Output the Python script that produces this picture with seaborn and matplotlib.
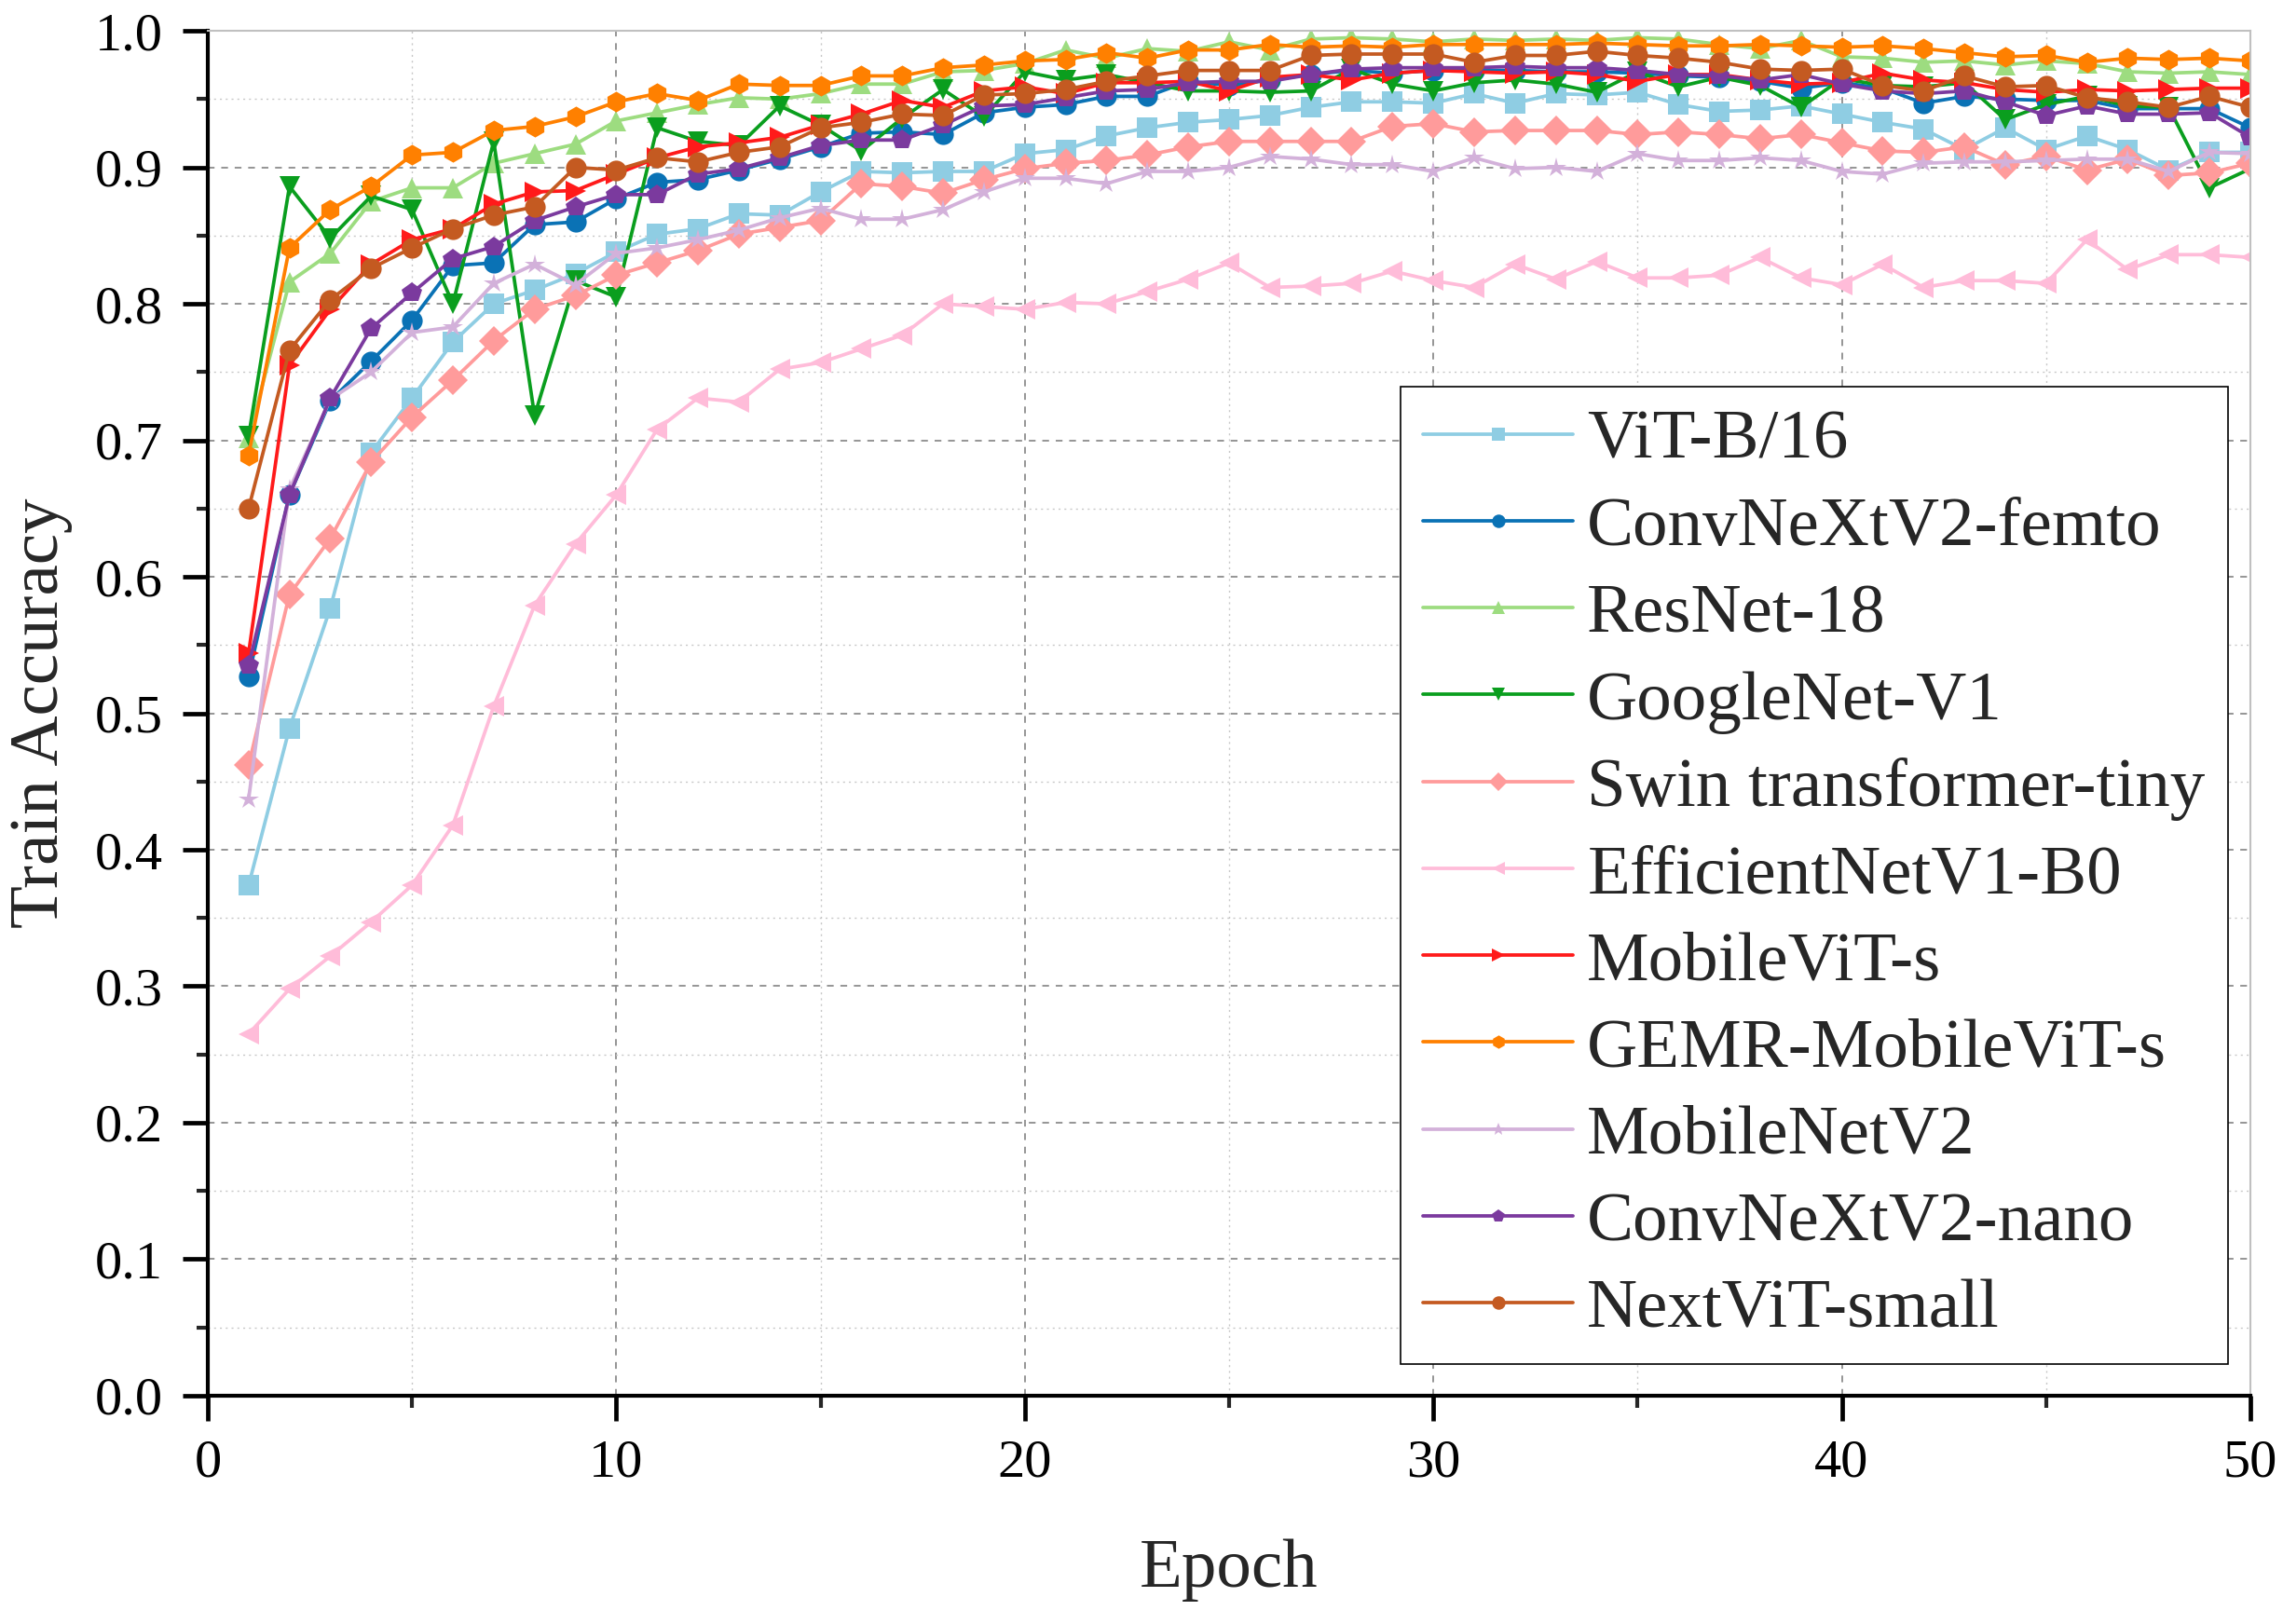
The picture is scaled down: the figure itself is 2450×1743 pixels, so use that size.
import matplotlib
matplotlib.use("Agg")
import matplotlib.pyplot as plt
import seaborn as sns
import pandas as pd
from matplotlib.ticker import MultipleLocator

epochs = list(range(1, 51))

models = ['ViT-B/16', 'ConvNeXtV2-femto', 'ResNet-18', 'GoogleNet-V1',
          'Swin transformer-tiny', 'EfficientNetV1-B0', 'MobileViT-s',
          'GEMR-MobileViT-s', 'MobileNetV2', 'ConvNeXtV2-nano', 'NextViT-small']

vit_b16 = [0.374, 0.489, 0.577, 0.691, 0.731, 0.772, 0.800, 0.810, 0.822, 0.838,
           0.851, 0.855, 0.866, 0.865, 0.882, 0.897, 0.896, 0.897, 0.897, 0.910,
           0.913, 0.923, 0.929, 0.933, 0.935, 0.938, 0.944, 0.948, 0.948, 0.947,
           0.954, 0.947, 0.954, 0.953, 0.955, 0.946, 0.941, 0.942, 0.945, 0.939,
           0.933, 0.928, 0.913, 0.929, 0.913, 0.923, 0.913, 0.898, 0.911, 0.911]
femto = [0.527, 0.660, 0.729, 0.758, 0.788, 0.828, 0.830, 0.858, 0.860, 0.877,
         0.889, 0.891, 0.898, 0.906, 0.915, 0.925, 0.926, 0.924, 0.940, 0.944,
         0.946, 0.952, 0.952, 0.963, 0.960, 0.964, 0.968, 0.971, 0.969, 0.971,
         0.971, 0.971, 0.970, 0.970, 0.969, 0.967, 0.966, 0.963, 0.958, 0.962,
         0.958, 0.947, 0.952, 0.950, 0.949, 0.949, 0.943, 0.943, 0.943, 0.929]
resnet18 = [0.702, 0.816, 0.837, 0.875, 0.885, 0.885, 0.903, 0.910, 0.917, 0.934,
            0.940, 0.946, 0.951, 0.950, 0.954, 0.961, 0.961, 0.970, 0.971, 0.976,
            0.986, 0.980, 0.987, 0.985, 0.992, 0.986, 0.994, 0.995, 0.994, 0.992,
            0.994, 0.993, 0.994, 0.993, 0.995, 0.994, 0.990, 0.987, 0.993, 0.981,
            0.980, 0.977, 0.978, 0.975, 0.978, 0.976, 0.970, 0.969, 0.970, 0.968]
googlenet = [0.703, 0.886, 0.848, 0.879, 0.869, 0.800, 0.919, 0.718, 0.817, 0.805,
             0.929, 0.919, 0.916, 0.945, 0.931, 0.912, 0.936, 0.957, 0.937, 0.970,
             0.964, 0.968, 0.962, 0.956, 0.956, 0.955, 0.956, 0.972, 0.961, 0.956,
             0.962, 0.964, 0.961, 0.955, 0.970, 0.959, 0.966, 0.960, 0.944, 0.965,
             0.960, 0.959, 0.962, 0.935, 0.946, 0.952, 0.945, 0.944, 0.885, 0.899]
swin = [0.462, 0.587, 0.628, 0.684, 0.717, 0.744, 0.773, 0.796, 0.806, 0.821,
        0.830, 0.839, 0.851, 0.856, 0.861, 0.888, 0.886, 0.881, 0.891, 0.899,
        0.903, 0.905, 0.909, 0.915, 0.919, 0.919, 0.919, 0.919, 0.930, 0.932,
        0.926, 0.927, 0.927, 0.927, 0.924, 0.926, 0.924, 0.921, 0.924, 0.918,
        0.912, 0.911, 0.915, 0.902, 0.908, 0.898, 0.906, 0.894, 0.896, 0.903]
effnet = [0.265, 0.298, 0.322, 0.347, 0.374, 0.418, 0.505, 0.579, 0.624, 0.660,
          0.708, 0.731, 0.728, 0.752, 0.757, 0.767, 0.777, 0.800, 0.798, 0.796,
          0.801, 0.800, 0.809, 0.818, 0.830, 0.812, 0.813, 0.815, 0.824, 0.817,
          0.812, 0.829, 0.818, 0.831, 0.819, 0.819, 0.821, 0.834, 0.819, 0.814,
          0.829, 0.812, 0.817, 0.817, 0.815, 0.847, 0.825, 0.836, 0.836, 0.834]
mobilevit = [0.544, 0.755, 0.796, 0.829, 0.847, 0.855, 0.873, 0.882, 0.883, 0.895,
             0.907, 0.915, 0.918, 0.922, 0.931, 0.939, 0.949, 0.944, 0.956, 0.959,
             0.954, 0.962, 0.962, 0.963, 0.956, 0.966, 0.968, 0.964, 0.969, 0.971,
             0.970, 0.969, 0.970, 0.968, 0.963, 0.968, 0.968, 0.964, 0.961, 0.962,
             0.969, 0.964, 0.962, 0.957, 0.955, 0.957, 0.956, 0.957, 0.958, 0.958]
gemr = [0.689, 0.841, 0.869, 0.886, 0.909, 0.911, 0.927, 0.930, 0.937, 0.948,
        0.954, 0.949, 0.961, 0.960, 0.960, 0.967, 0.967, 0.973, 0.975, 0.978,
        0.979, 0.984, 0.980, 0.986, 0.986, 0.990, 0.988, 0.989, 0.988, 0.990,
        0.990, 0.990, 0.990, 0.991, 0.990, 0.989, 0.989, 0.990, 0.989, 0.988,
        0.989, 0.987, 0.984, 0.981, 0.982, 0.977, 0.980, 0.979, 0.980, 0.978]
mobilenetv2 = [0.437, 0.664, 0.730, 0.750, 0.779, 0.783, 0.815, 0.829, 0.814, 0.837,
               0.841, 0.847, 0.854, 0.863, 0.870, 0.862, 0.862, 0.869, 0.882, 0.892,
               0.892, 0.888, 0.897, 0.897, 0.900, 0.908, 0.906, 0.902, 0.902, 0.897,
               0.907, 0.899, 0.900, 0.897, 0.910, 0.905, 0.905, 0.907, 0.905, 0.897,
               0.895, 0.903, 0.904, 0.904, 0.905, 0.906, 0.906, 0.897, 0.911, 0.910]
nano = [0.535, 0.660, 0.731, 0.782, 0.808, 0.833, 0.842, 0.861, 0.871, 0.880,
        0.880, 0.895, 0.899, 0.907, 0.916, 0.920, 0.920, 0.931, 0.945, 0.946,
        0.951, 0.956, 0.957, 0.962, 0.963, 0.963, 0.968, 0.972, 0.973, 0.973,
        0.973, 0.974, 0.973, 0.973, 0.971, 0.968, 0.967, 0.964, 0.968, 0.961,
        0.956, 0.954, 0.956, 0.948, 0.938, 0.945, 0.939, 0.939, 0.940, 0.922]
nextvit = [0.650, 0.766, 0.803, 0.826, 0.841, 0.855, 0.865, 0.871, 0.900, 0.898,
           0.907, 0.904, 0.911, 0.915, 0.929, 0.933, 0.939, 0.938, 0.953, 0.954,
           0.957, 0.963, 0.967, 0.971, 0.971, 0.971, 0.982, 0.983, 0.983, 0.983,
           0.977, 0.982, 0.982, 0.985, 0.982, 0.980, 0.977, 0.972, 0.971, 0.972,
           0.960, 0.956, 0.967, 0.959, 0.960, 0.951, 0.948, 0.944, 0.952, 0.944]

series = [vit_b16, femto, resnet18, googlenet, swin, effnet, mobilevit,
          gemr, mobilenetv2, nano, nextvit]

colors = ['#8fcde3', '#0a72b5', '#9ddc80', '#0a9e1e', '#ff9b9b', '#ffbcd9',
          '#ff1a1a', '#ff8000', '#d3b1da', '#7b3a9e', '#c45a21']
marker_list = ['s', 'o', '^', 'v', 'D', '<', '>', 'h', '*', 'p', 'o']

rows = []
for name, vals in zip(models, series):
    for e, v in zip(epochs, vals):
        rows.append({'Epoch': e, 'Acc': v, 'Model': name})
df = pd.DataFrame(rows)

sns.set_style('ticks')
plt.rcParams['font.family'] = ['Liberation Serif', 'DejaVu Serif']

fig = plt.figure(figsize=(24.5, 17.43), dpi=100)
ax = fig.add_axes([0.091, 0.1406, 0.8947, 0.8404])

sns.lineplot(data=df, x='Epoch', y='Acc', hue='Model', style='Model',
             hue_order=models, style_order=models,
             palette=dict(zip(models, colors)),
             markers=dict(zip(models, marker_list)), dashes=False,
             linewidth=2.7, markersize=16, markeredgewidth=0, ax=ax)

ax.set_xlim(0, 50)
ax.set_ylim(0, 1.0)
ax.xaxis.set_major_locator(MultipleLocator(10))
ax.xaxis.set_minor_locator(MultipleLocator(5))
ax.yaxis.set_major_locator(MultipleLocator(0.1))
ax.yaxis.set_minor_locator(MultipleLocator(0.05))
ax.yaxis.set_major_formatter(matplotlib.ticker.FormatStrFormatter('%.1f'))

ax.grid(which='major', linestyle=(0, (4, 4)), color='#8c8c8c', linewidth=1.3)
ax.grid(which='minor', linestyle=(0, (1.5, 3)), color='#c8c8c8', linewidth=1.0)
ax.set_axisbelow(True)

for s in ['left', 'bottom']:
    ax.spines[s].set_linewidth(3.0)
    ax.spines[s].set_color('black')
for s in ['top', 'right']:
    ax.spines[s].set_linewidth(1.5)
    ax.spines[s].set_color('#c0c0c0')

ax.tick_params(which='major', direction='out', length=19.5, width=3.4,
               labelsize=42, colors='black', top=False, right=False)
ax.tick_params(which='minor', direction='out', length=9, width=3.0,
               top=False, right=False)
ax.tick_params(axis='x', which='major', pad=14)
ax.tick_params(axis='y', which='major', pad=15)

ax.set_xlabel('Epoch', fontsize=54)
ax.set_ylabel('Train Accuracy', fontsize=54)
ax.xaxis.set_label_coords(0.5, -0.105)
ax.yaxis.set_label_coords(-0.066, 0.5)

handles, labels = ax.get_legend_handles_labels()
leg = ax.legend(handles, labels, loc='upper left', bbox_to_anchor=(0.584, 0.739),
                fontsize=54, frameon=True, fancybox=False, edgecolor='black',
                framealpha=1, handlelength=2.15, handletextpad=0.2,
                labelspacing=0.33, borderpad=0.32, borderaxespad=0,
                markerscale=0.65)
leg.get_frame().set_linewidth(1.2)

fig.savefig('out.png', dpi=100)
